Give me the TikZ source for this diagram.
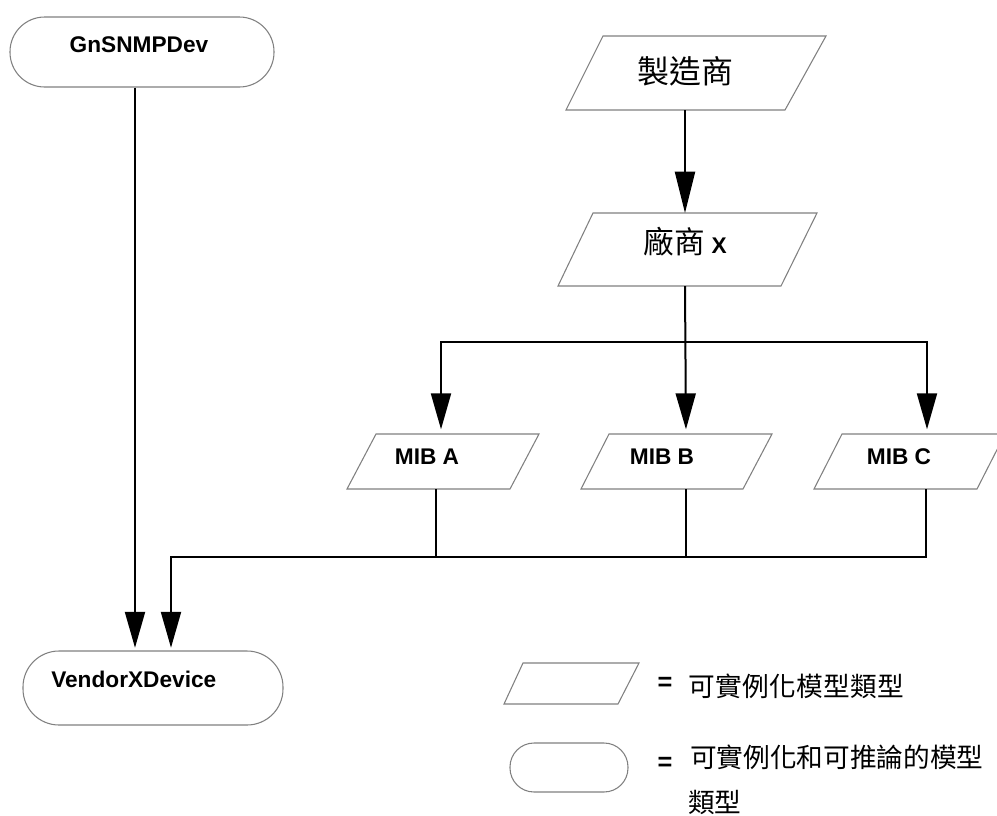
\documentclass[tikz,border=0pt]{standalone}
\usepackage{fontspec}
\setmainfont{Liberation Sans}
\newfontfamily\cjk{Noto Sans CJK TC}
\usetikzlibrary{arrows.meta,calc}
\begin{document}
\begin{tikzpicture}[x=0.75pt,y=-0.75pt,
  outline/.style={draw=gray, line width=0.8pt},
  holder/.style={inner sep=0pt, outer sep=0pt, minimum width=60pt},
  conn/.style={line width=1.5pt, black},
  arr/.style={conn, -{Triangle[length=27pt,width=15pt]}},
  lbl/.style={font=\bfseries\fontsize{17pt}{20pt}\selectfont, inner sep=0pt, anchor=base},
  cjkbig/.style={font=\cjk\fontsize{24pt}{28pt}\selectfont, inner sep=0pt},
  cjkleg/.style={font=\cjk\fontsize{20pt}{24pt}\selectfont, inner sep=0pt, anchor=west},
  eqsign/.style={font=\bfseries\fontsize{19pt}{22pt}\selectfont, inner sep=0pt}]
\useasboundingbox (0,0) rectangle (997,815);

% rounded (instantiable & inferable) nodes
\node[outline, rounded corners=26pt, minimum width=198pt, minimum height=52.5pt, inner sep=0pt] (gn) at (142,52) {};
\node[lbl] (gnt) at (139,52) {GnSNMPDev};
\node[outline, rounded corners=27pt, minimum width=195pt, minimum height=55.5pt, inner sep=0pt] (vd) at (153,688) {};
\node[lbl, anchor=base west] (vdt) at (51,687) {VendorXDevice};

% parallelogram nodes
\node[holder, minimum height=55.5pt] (mfr) at (685,73) {};
\draw[outline] (603,36) -- (826,36) -- (785,110) -- (566,110) -- cycle;
\node[cjkbig] (mfrt) at (685,71) {製造商};

\node[holder, minimum height=54.75pt] (vx) at (685,249.5) {};
\draw[outline] (593,213) -- (817,213) -- (781,286) -- (558,286) -- cycle;
\node[cjkbig, font=\cjk\fontsize{23pt}{27pt}\selectfont] (vxt) at (685,242) {廠商 {\rmfamily\bfseries\fontsize{17pt}{20pt}\selectfont X}};

\node[holder, minimum height=41.25pt] (mibA) at (441,461.5) {};
\draw[outline] (376,434) -- (539,434) -- (510,489) -- (347,489) -- cycle;
\node[lbl] (mibAt) at (427,464) {MIB A};

\node[holder, minimum height=41.25pt] (mibB) at (686,461.5) {};
\draw[outline] (609,434) -- (772,434) -- (743,489) -- (581,489) -- cycle;
\node[lbl] (mibBt) at (662,464) {MIB B};

\node[holder, minimum height=41.25pt] (mibC) at (927,461.5) {};
\draw[outline] (842,434) -- (1005,434) -- (977,489) -- (814,489) -- cycle;
\node[lbl] (mibCt) at (899,464) {MIB C};

% connectors
\coordinate (bus1) at (685,342);
\coordinate (bus2) at (436,557);
\coordinate (vdin) at ($(vd.north)+(18,0)$);
\draw[arr, shorten >=2pt] ($(gn.south)+(-7,0)$) -- ($(vd.north)+(-18,0)$);
\draw[conn, -{Triangle[length=31pt,width=15pt]}] (mfr.south) -- (vx.north);
\draw[arr, shorten >=3.5pt] (vx.south) -- (mibB.north);
\draw[arr, shorten >=3.5pt] (bus1) -| (mibA.north);
\draw[arr, shorten >=3.5pt] (bus1) -| (mibC.north);
\draw[conn] ($(mibA.south)+(-5,0)$) -- (bus2);
\draw[conn] (mibB.south) -- (mibB.south |- bus2);
\draw[arr, shorten >=2pt] ($(mibC.south)+(-1,0)$) |- (vdin |- bus2) -- (vdin);

% legend
\draw[outline] (523,663) -- (639,663) -- (618,704) -- (504,704) -- cycle;
\node[outline, rounded corners=18pt, minimum width=88.5pt, minimum height=36.75pt, inner sep=0pt] (legr) at (569,767.5) {};
\node[eqsign] (eq1) at (665,684) {=};
\node[eqsign] (eq2) at (665,764) {=};
\node[cjkleg] (leg1) at (688,686) {可\kern0.3pt 實\kern0.3pt 例\kern0.3pt 化\kern0.3pt 模\kern0.3pt 型\kern0.3pt 類\kern0.3pt 型};
\node[cjkleg] (leg2) at (690,757) {可實例化和可推論的模型};
\node[cjkleg] (leg3) at (688,802) {類型};
\end{tikzpicture}
\end{document}
